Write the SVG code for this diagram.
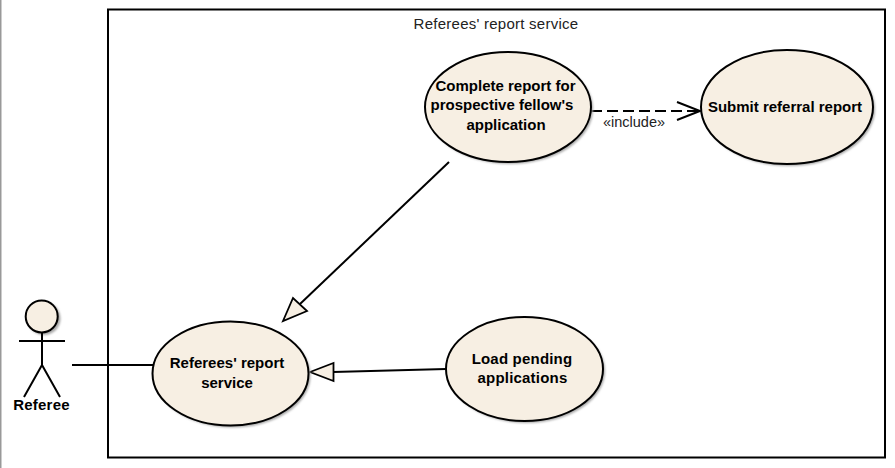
<svg xmlns="http://www.w3.org/2000/svg" width="895" height="468" viewBox="0 0 895 468">
<defs><filter id="blur" x="-10%" y="-10%" width="120%" height="120%"><feGaussianBlur stdDeviation="1"/></filter></defs>
<style>
text{font-family:"Liberation Sans",Arial,sans-serif;font-size:15px;fill:#222;text-anchor:middle}
text.b{font-weight:bold;font-size:15px;fill:#000}
.u{fill:#f7efe3;stroke:#000;stroke-width:2}
.s{fill:#a8a8a8;filter:url(#blur)}
.l{fill:none;stroke:#000;stroke-width:2}
.h{fill:#f7efe3;stroke:#000;stroke-width:1.800}
</style>
<rect width="895" height="468" fill="#fff"/>
<rect x="0" y="0" width="1.500" height="468" fill="#999"/>
<g id="boundary"><rect x="108" y="9.500" width="777" height="448" fill="none" stroke="#000" stroke-width="2"/><text x="496" y="29" style="letter-spacing:.25px">Referees' report service</text></g>
<g id="connectors">
<path class="l" d="M72 365H153"/>
<path class="l" d="M449 162L300 304"/>
<path class="h" d="M283 321L293 298L307 311Z"/>
<path class="l" d="M446 369L333 372"/>
<path class="h" d="M310 372L333.500 363V381Z"/>
<path class="l" stroke-dasharray="11 5" d="M591 111H699"/>
<path class="l" d="M677 102L700 111L677 120"/>
<text x="634" y="127" style="font-size:14.500px">«include»</text>
</g>
<g id="actor-referee">
<circle class="s" cx="44" cy="318.500" r="16.500"/>
<circle class="u" cx="41.700" cy="316.400" r="16"/>
<path class="l" d="M42 333V365M19 341H65M42 365L24 397M42 365L60 397"/>
<text class="b" x="41.500" y="410" style="letter-spacing:.2px">Referee</text>
</g>
<g id="usecase-referees">
<ellipse class="s" cx="232.500" cy="375.500" rx="78" ry="52"/>
<ellipse class="u" cx="230.500" cy="373.500" rx="78" ry="52"/>
<text class="b" x="227" y="368">Referees' report</text><text class="b" x="227" y="388">service</text>
</g>
<g id="usecase-complete">
<ellipse class="s" cx="510" cy="109" rx="83" ry="55"/>
<ellipse class="u" cx="508" cy="107" rx="83" ry="55"/>
<text class="b" x="505.500" y="91">Complete report for</text><text class="b" x="502" y="109.500">prospective fellow's</text><text class="b" x="506" y="129.500">application</text>
</g>
<g id="usecase-submit">
<ellipse class="s" cx="789" cy="109" rx="86" ry="57"/>
<ellipse class="u" cx="787" cy="107" rx="86" ry="57"/>
<text class="b" x="785" y="112">Submit referral report</text>
</g>
<g id="usecase-load">
<ellipse class="s" cx="526.500" cy="371" rx="78.500" ry="52"/>
<ellipse class="u" cx="524.500" cy="369" rx="78.500" ry="52"/>
<text class="b" x="522" y="364" style="letter-spacing:.2px">Load pending</text><text class="b" x="522.500" y="383" style="letter-spacing:.2px">applications</text>
</g>
</svg>
